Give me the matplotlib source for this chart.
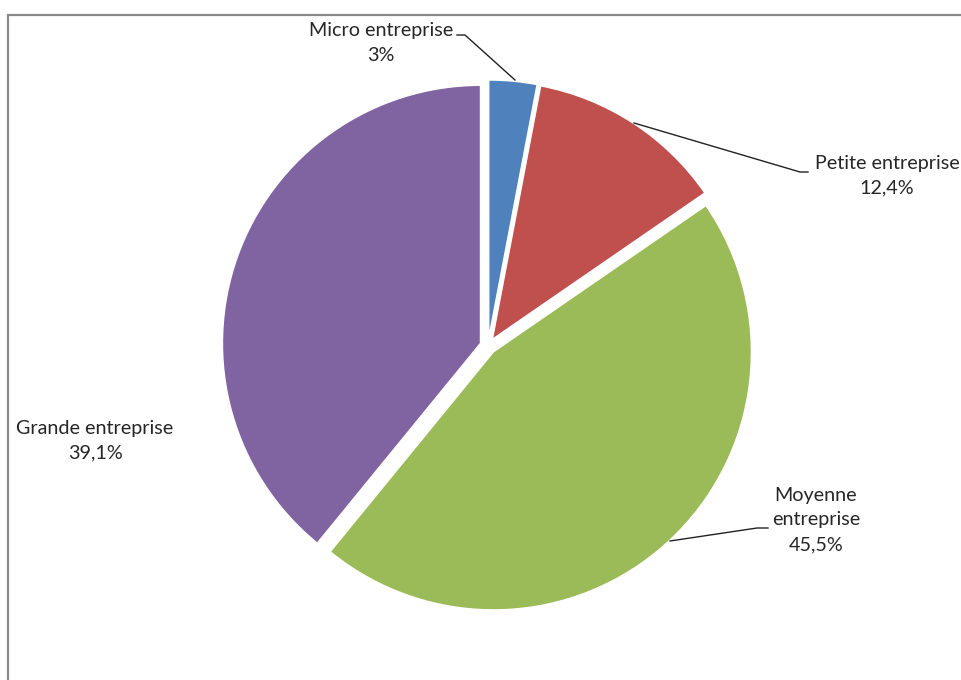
import numpy as np
import matplotlib.pyplot as plt
from matplotlib.patches import Rectangle

labels = ['Micro entreprise', 'Petite entreprise', 'Moyenne\nentreprise', 'Grande entreprise']
values = [3.0, 12.4, 45.5, 39.1]
pct_text = ['3%', '12,4%', '45,5%', '39,1%']
colors = ['#4F81BD', '#C0504D', '#9BBB59', '#8064A2']

plt.rcParams['font.family'] = ['Lato', 'DejaVu Sans']

fig = plt.figure(figsize=(9.62, 6.8), dpi=100)
# frame of the chart area (runs past right/bottom edges)
fig.patches.append(Rectangle((8 / 962, -0.1), 1.2, 1.1 - 15 / 680,
                             transform=fig.transFigure, fill=False,
                             edgecolor='#8a8a8a', linewidth=1.6))

ax = fig.add_axes([0, 0, 1, 1])
cx, cy = 488, 346
R = 258
# explode is in data units here (pixels)
wedges, _ = ax.pie(values, colors=colors, startangle=90, counterclock=False,
                   radius=R, explode=[8] * 4,
                   wedgeprops=dict(edgecolor='white', linewidth=1.0))
# axes in pixel units, pie centre at (488, 346)
ax.set_xlim(-cx, 962 - cx)
ax.set_ylim(-(680 - cy), cy)
ax.axis('off')

tc = '#262626'
fs = 14.2


def px(x, y):
    return x - cx, cy - y


# label text positions (pixels) and leader paths
text_pos = [(381, 43), (887, 176), (816, 520), (95, 441)]
leaders = [
    [(515, 80), (465, 35), (457, 35)],
    [(634, 123), (800, 172), (808, 172)],
    [(670, 541), (757, 528), (768, 528)],
    None,
]

for i in range(len(values)):
    x, y = px(*text_pos[i])
    ax.text(x, y, labels[i] + '\n' + pct_text[i], ha='center', va='center',
            fontsize=fs, color=tc, linespacing=1.55)
    if leaders[i]:
        pts = np.array([px(*p) for p in leaders[i]])
        ax.plot(pts[:, 0], pts[:, 1], color='#222222', linewidth=1.0)

fig.savefig('out.png', dpi=100)
